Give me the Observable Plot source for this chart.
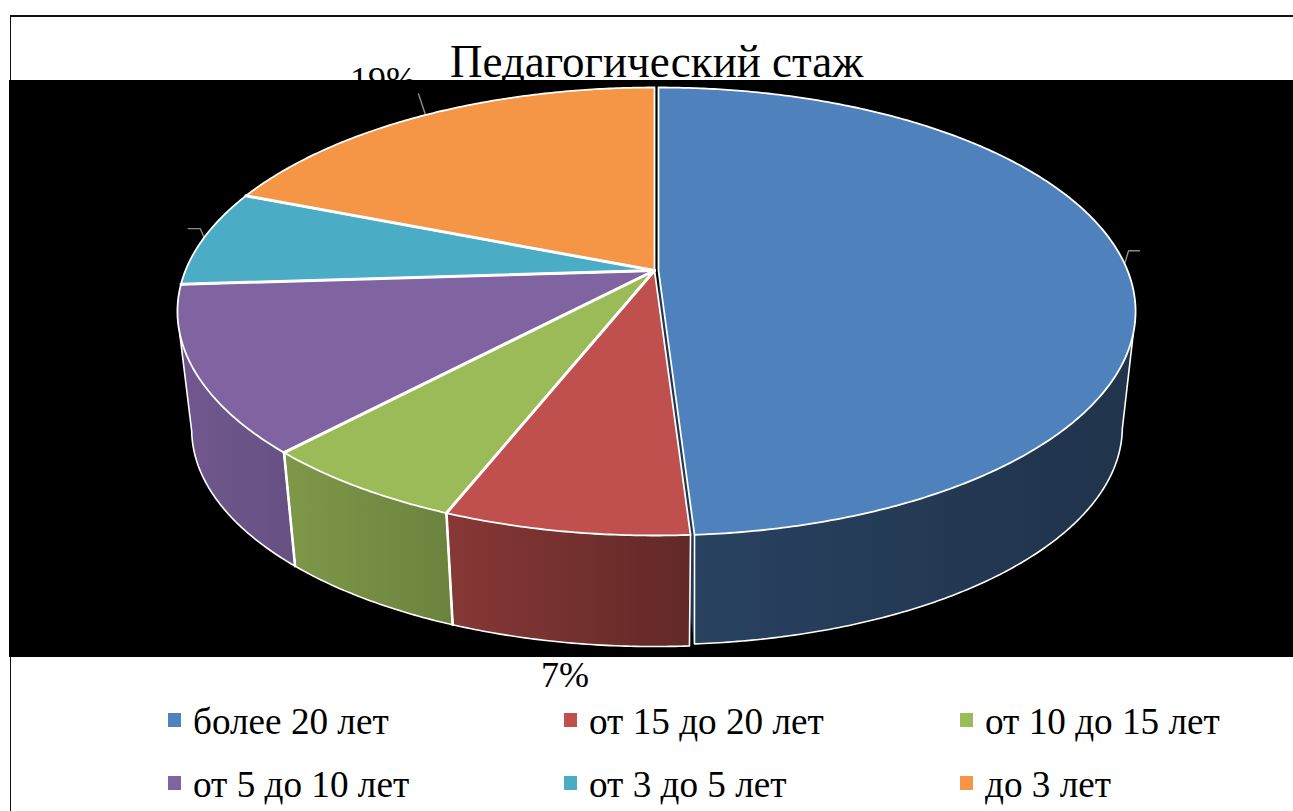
<!DOCTYPE html>
<html lang="ru">
<head>
<meta charset="utf-8">
<script src="https://cdn.jsdelivr.net/npm/d3@7"></script>
<script src="https://cdn.jsdelivr.net/npm/@observablehq/plot@0.6"></script>
<style>
  html, body { margin: 0; padding: 0; background: #fff; overflow: hidden; }
  #page { position: relative; width: 1293px; height: 811px; overflow: hidden;
          font-family: "Liberation Serif", "Times New Roman", serif; color: #000; }
  .t { position: absolute; white-space: nowrap; line-height: 1; }
  .sw { position: absolute; width: 13px; height: 14px; }
  .rule { position: absolute; background: #111; }
</style>
</head>
<body>
<div id="page"></div>
<script>
const chartTitle = "Педагогический стаж";
const categories = ["более 20 лет", "от 15 до 20 лет", "от 10 до 15 лет", "от 5 до 10 лет", "от 3 до 5 лет", "до 3 лет"];
const percents = [49, 7, 6, 12, 7, 19];
const sliceColors = ["#4f81bd", "#c0504d", "#9bbb59", "#8064a2", "#4bacc6", "#f49645"];

const page = document.getElementById("page");

// Perspective of the 3D pie: the upper disc and the lower disc, both seen from above
const topDisc = {cx: 654, cy: 270, a: 469, b: 216.5, k: -0.183};
const lowDisc = {cx: 654, cy: 389, a: 455, b: 210, k: -0.183};
const explodeTop = {dx: 4, dy: 0};
const explodeLow = {dx: 5, dy: -2};
const project = (d, deg, off = {dx: 0, dy: 0}) => {
  const t = deg * Math.PI / 180, u = Math.sin(t), v = -Math.cos(t), w = 1 + d.k * v;
  return {x: d.cx + off.dx + d.a * u / w, y: d.cy + off.dy + d.b * v / w};
};
const apex = (d, off = {dx: 0, dy: 0}) => ({x: d.cx + off.dx, y: d.cy + off.dy});

let acc = 0;
const wedges = percents.map((p, i) => {
  const start = acc * 3.6; acc += p;
  return {i, start, end: acc * 3.6, color: sliceColors[i], midDeg: start + p * 1.8,
    top: i === 0 ? explodeTop : undefined, low: i === 0 ? explodeLow : undefined};
});
const span = (a, b, step = 0.5) => {
  const out = [], n = Math.max(1, Math.round(Math.abs(b - a) / step));
  for (let j = 0; j <= n; ++j) out.push(a + (b - a) * j / n);
  return out;
};

// Wall shading runs left to right across the picture
const shade = d3.scaleLinear().domain([190, 300, 450, 690, 1100]).range([0.87, 0.80, 0.70, 0.51, 0.40]).clamp(true);
const darker = (c, f) => { const r = d3.rgb(c); return d3.rgb(r.r * f, r.g * f, r.b * f).formatHex(); };

// Where the rim turns behind the disc
const silhouette = {low: [101, 259], top: [106, 254]};
const visibleWalls = wedges.slice(0, 4);

// Wall polygons, painted with a left-to-right gradient (back first);
// each closes along the straight silhouette between the two rims
const walls = [];
[3, 0, 2, 1].forEach(i => {
  const w = wedges[i];
  const la = Math.max(w.start, silhouette.low[0]), lb = Math.min(w.end, silhouette.low[1]);
  const ta = Math.max(w.start, silhouette.top[0]), tb = Math.min(w.end, silhouette.top[1]);
  const pts = [...span(ta, tb).map(t => project(topDisc, t, w.top)),
    ...span(lb, la).map(t => project(lowDisc, t, w.low))];
  [...pts, pts[0]].forEach(p => walls.push({...p, id: i, color: `url(#wall${i})`}));
});
const wallGradient = (w, x) => {
  const a = Math.max(w.start, silhouette.low[0]), b = Math.min(w.end, silhouette.low[1]);
  const xs = span(a, b, 8).map(t => project(lowDisc, t, w.low).x);
  const lo = d3.min(xs), hi = d3.max(xs);
  const g = d3.create("svg:linearGradient").attr("id", `wall${w.i}`).attr("gradientUnits", "userSpaceOnUse")
    .attr("x1", x(lo)).attr("x2", x(hi)).attr("y1", 0).attr("y2", 0);
  d3.range(7).forEach(j => {
    const f = j / 6;
    g.append("stop").attr("offset", f).attr("stop-color", darker(w.color, shade(lo + (hi - lo) * f)));
  });
  return g.node();
};

// The cut face of the pulled-out slice
const blue = wedges[0];
const cutFace = [apex(topDisc, blue.top), project(topDisc, blue.end, blue.top),
  project(lowDisc, blue.end, blue.low), apex(lowDisc, blue.low)]
  .map(p => ({...p, id: "cut", color: darker(blue.color, 0.42)}));

// White outlines of the visible walls
const outlines = [];
visibleWalls.forEach(w => {
  const a = Math.max(w.start, silhouette.low[0]), b = Math.min(w.end, silhouette.low[1]);
  const ta = Math.max(w.start, silhouette.top[0]), tb = Math.min(w.end, silhouette.top[1]);
  const pts = [project(topDisc, ta, w.top), ...span(a, b).map(t => project(lowDisc, t, w.low)), project(topDisc, tb, w.top)];
  pts.forEach(p => outlines.push({...p, id: w.i}));
});
// Heavier white dividers between neighbouring walls
const dividers = [];
[2, 3].forEach(i => {
  const t = wedges[i].start;
  dividers.push({...project(topDisc, t), id: i}, {...project(lowDisc, t), id: i});
});

// Upper faces
const faces = [];
[1, 2, 3, 4, 5, 0].forEach(i => {
  const w = wedges[i];
  [apex(topDisc, w.top), ...span(w.start, w.end).map(t => project(topDisc, t, w.top)), apex(topDisc, w.top)]
    .forEach(p => faces.push({...p, id: i, color: w.color}));
});
// Heavier white spokes between the slices that stay in place
const spokes = [];
[2, 3, 4, 5].forEach(i => {
  spokes.push({...apex(topDisc), id: i}, {...project(topDisc, wedges[i].start), id: i});
});

// Grey leader lines (slices whose labels sit on the black field)
const leaderSteps = {0: [[4, -13], [15, -13]], 4: [[-4, -9], [-16, -9]], 5: [[-7, -21]]};
const leaders = [];
Object.entries(leaderSteps).forEach(([i, steps]) => {
  const w = wedges[+i], p = project(topDisc, w.midDeg, w.top);
  leaders.push({...p, id: i});
  steps.forEach(([dx, dy]) => leaders.push({x: p.x + dx, y: p.y + dy, id: i}));
});

// ---- title block, behind the black plot field ----
const BASE = 0.8375; // baseline position inside a line-height:1 box of Liberation Serif
const addText = (s, x, base, size, sy = 1) => {
  const el = document.createElement("div");
  el.className = "t"; el.textContent = s;
  el.style.left = x + "px"; el.style.fontSize = size + "px";
  el.style.top = (base - size * BASE) + "px";
  el.style.height = size + "px";
  el.style.transformOrigin = `0 ${size * BASE}px`;
  el.style.transform = `scaleY(${sy})`;
  page.appendChild(el);
  return el;
};
const rule = (l, t, w, h) => { const r = document.createElement("div"); r.className = "rule";
  Object.assign(r.style, {left: l + "px", top: t + "px", width: w + "px", height: h + "px"}); page.appendChild(r); };
rule(9.5, 15, 1284, 1.5);
rule(9.5, 15, 1.5, 796);

addText(chartTitle, 450, 78, 45, 1.05);
addText(percents[5] + "%", 350, 92, 36, 1);

const chart = Plot.plot({
  width: 1284, height: 577, margin: 0,
  x: {domain: [9, 1293], range: [0, 1284], axis: null},
  y: {domain: [80, 657], range: [0, 577], axis: null},
  color: {type: "identity"},
  style: {position: "absolute", left: "9px", top: "80px", background: "#000", overflow: "hidden"},
  marks: [
    (index, {x}) => {
      const defs = d3.create("svg:defs");
      visibleWalls.forEach(w => defs.append(() => wallGradient(w, x)));
      return defs.node();
    },
    Plot.line(leaders, {x: "x", y: "y", z: "id", stroke: "#8c8c8c", strokeWidth: 1.4}),
    Plot.line(cutFace, {x: "x", y: "y", z: "id", fill: "color", stroke: "color", strokeWidth: 0.5}),
    Plot.line(walls, {x: "x", y: "y", z: "id", fill: "color", stroke: "none"}),
    Plot.line(outlines, {x: "x", y: "y", z: "id", stroke: "#fff", strokeWidth: 1.6, strokeLinejoin: "round"}),
    Plot.line(dividers, {x: "x", y: "y", z: "id", stroke: "#fff", strokeWidth: 2.6}),
    Plot.line(faces, {x: "x", y: "y", z: "id", fill: "color", stroke: "#fff", strokeWidth: 1.8, strokeLinejoin: "round"}),
    Plot.line(spokes, {x: "x", y: "y", z: "id", stroke: "#fff", strokeWidth: 3})
  ]
});
page.appendChild(chart);

// ---- below the plot field: the one visible data label and the legend ----
addText(percents[1] + "%", 541, 687, 36, 1);
const legendCols = [{sw: 168, tx: 193}, {sw: 564, tx: 589}, {sw: 960, tx: 985}];
const legendRows = [{sw: 713, base: 734}, {sw: 776, base: 797}];
categories.forEach((c, i) => {
  const col = legendCols[i % 3], row = legendRows[Math.floor(i / 3)];
  const s = document.createElement("div");
  s.className = "sw";
  s.style.left = col.sw + "px"; s.style.top = row.sw + "px"; s.style.background = sliceColors[i];
  page.appendChild(s);
  addText(c, col.tx, row.base, 37.2, 1.03);
});
</script>
</body>
</html>
